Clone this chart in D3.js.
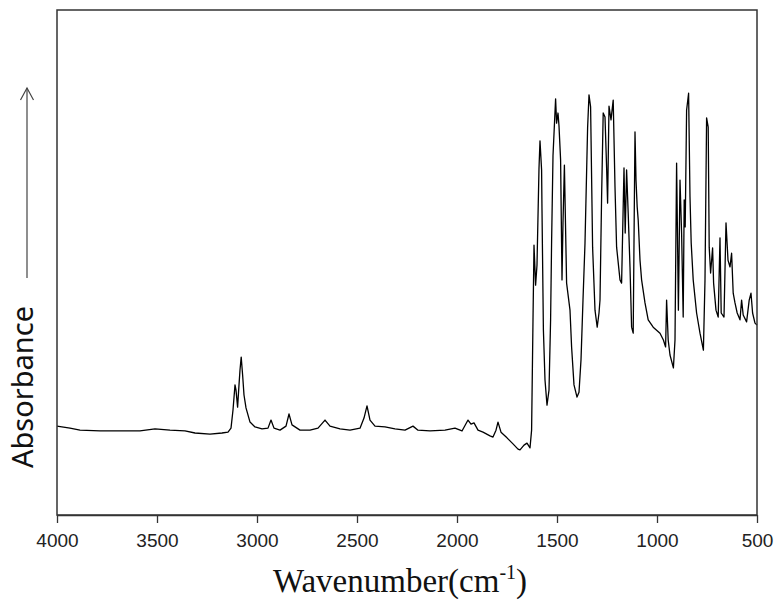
<!DOCTYPE html>
<html><head><meta charset="utf-8">
<script src="https://cdn.jsdelivr.net/npm/d3@7"></script>
<style>body{margin:0;background:#fff;}</style>
</head><body>
<svg id="c" width="778" height="604"></svg>
<script>
// Wavenumber (cm-1) and absorbance (arbitrary units)
const wavenumber = [4000,3935,3885,3785,3685,3585,3510,3435,3360,3310,3235,3175,3145,3130,3120,3110,3105,3097,3090,3085,3079,3072,3065,3055,3035,3010,2975,2945,2930,2915,2885,2855,2840,2825,2785,2735,2695,2660,2635,2585,2535,2485,2465,2450,2435,2410,2360,2310,2260,2220,2195,2135,2060,2010,1975,1945,1930,1915,1895,1870,1835,1820,1805,1795,1780,1750,1720,1695,1685,1665,1650,1635,1627,1620,1615,1607,1600,1590,1585,1577,1575,1568,1560,1550,1540,1532,1527,1520,1507,1502,1495,1490,1482,1475,1470,1463,1452,1435,1427,1415,1400,1390,1380,1370,1360,1347,1340,1332,1322,1310,1299,1290,1285,1277,1269,1260,1252,1247,1240,1230,1219,1210,1202,1185,1177,1165,1159,1152,1144,1135,1127,1119,1114,1110,1105,1099,1094,1085,1077,1060,1044,1019,985,968,957,952,944,935,918,910,902,893,885,877,869,864,859,852,842,835,829,819,802,785,768,760,752,744,739,732,722,717,705,694,685,679,665,655,645,635,627,619,610,599,585,577,569,552,539,530,522,510,500];
const absorbance = [0.220,0.215,0.210,0.208,0.208,0.208,0.213,0.210,0.208,0.203,0.200,0.203,0.205,0.215,0.260,0.322,0.309,0.267,0.322,0.359,0.391,0.347,0.297,0.265,0.230,0.218,0.213,0.215,0.235,0.215,0.210,0.220,0.250,0.223,0.210,0.210,0.215,0.235,0.220,0.213,0.210,0.215,0.240,0.270,0.235,0.220,0.218,0.213,0.210,0.220,0.210,0.208,0.210,0.215,0.208,0.235,0.225,0.228,0.210,0.205,0.196,0.193,0.210,0.230,0.205,0.191,0.176,0.163,0.161,0.173,0.178,0.166,0.210,0.483,0.668,0.569,0.619,0.859,0.926,0.854,0.755,0.458,0.334,0.272,0.309,0.483,0.676,0.889,1.030,0.970,0.995,0.963,0.879,0.582,0.723,0.866,0.574,0.507,0.416,0.322,0.292,0.304,0.384,0.532,0.673,0.958,1.040,1.010,0.663,0.507,0.465,0.500,0.532,0.787,0.995,0.985,0.861,0.772,1.012,0.978,1.027,0.812,0.663,0.582,0.574,0.859,0.698,0.854,0.747,0.614,0.465,0.450,0.730,0.948,0.829,0.762,0.730,0.631,0.582,0.525,0.483,0.465,0.450,0.433,0.416,0.532,0.433,0.396,0.364,0.433,0.871,0.507,0.829,0.698,0.490,0.780,0.713,1.002,1.044,0.787,0.673,0.582,0.500,0.450,0.408,0.582,0.983,0.960,0.663,0.599,0.661,0.574,0.507,0.490,0.686,0.500,0.490,0.723,0.631,0.614,0.648,0.549,0.525,0.500,0.483,0.532,0.495,0.478,0.532,0.549,0.500,0.475,0.470];
const xTicks = [4000,3500,3000,2500,2000,1500,1000,500];

const svg = d3.select("#c");
const L = 57, R = 757, T = 10, B = 515;
const x = d3.scaleLinear().domain([4000, 500]).range([L, R]);
const y = d3.scaleLinear().domain([0, 1.25]).range([B, T]);

const data = wavenumber.map((w, i) => ({w, a: absorbance[i]}));

// spectrum
svg.append("path").datum(data)
  .attr("fill", "none").attr("stroke", "#000").attr("stroke-width", 1.3)
  .attr("stroke-linejoin", "round")
  .attr("d", d3.line().x(d => x(d.w)).y(d => y(d.a)));

// frame
svg.append("rect").attr("x", L).attr("y", T).attr("width", R - L).attr("height", B - T)
  .attr("fill", "none").attr("stroke", "#333").attr("stroke-width", 1.5);

// x axis
const ax = svg.append("g").attr("transform", `translate(0,${B})`)
  .call(d3.axisBottom(x).tickValues(xTicks).tickSize(8).tickSizeOuter(0).tickFormat(d3.format("d")));
ax.select(".domain").attr("stroke", "#333").attr("stroke-width", 1.5);
ax.selectAll(".tick line").attr("stroke", "#333").attr("stroke-width", 1.3);
ax.selectAll(".tick text").attr("font-family", "Liberation Sans, Arial, sans-serif")
  .attr("font-size", 19).attr("fill", "#222").attr("dy", "1.12em");

// x label
const xl = svg.append("text").attr("x", 400).attr("y", 592).attr("text-anchor", "middle")
  .attr("font-family", "Liberation Serif, Times New Roman, serif").attr("font-size", 33).attr("fill", "#111");
xl.append("tspan").text("Wavenumber(cm");
xl.append("tspan").attr("font-size", 20).attr("dy", -13).text("-1");
xl.append("tspan").attr("dy", 13).text(")");

// y label
svg.append("text").attr("transform", "translate(33,387) rotate(-90)").attr("text-anchor", "middle")
  .attr("font-family", "Noto Sans, Open Sans, sans-serif").attr("font-size", 29).attr("fill", "#111")
  .text("Absorbance");

// arrow
svg.append("line").attr("x1", 27).attr("x2", 27).attr("y1", 278).attr("y2", 88)
  .attr("stroke", "#444").attr("stroke-width", 1.2);
svg.append("path").attr("d", "M20.5,100 L27,88 L33.5,100").attr("fill", "none")
  .attr("stroke", "#444").attr("stroke-width", 1.2);
</script>
</body></html>
